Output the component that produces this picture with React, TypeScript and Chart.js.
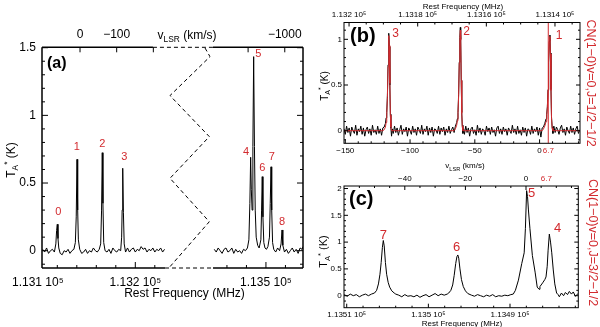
import React, { useEffect, useRef } from 'react';
import { Chart, registerables } from 'chart.js';
Chart.register(...registerables);

const FONT = '"Liberation Sans", Arial, Helvetica, sans-serif';
const RED = '#d22a2e';

// ---------------- Panel (a) data (rest frequency MHz, T_A* K) ----------------
const specAFreqL = [113105,113107,113109,113111,113113,113115,113117,113118.5,113119.3,113120,113120.7,113121.5,113123,113125,113127,113129,113131,113133,113135,113137,113138.5,113139.4,113140.2,113140.9,113141.6,113143,113145,113147,113149,113151,113153,113155,113157,113159,113161,113163,113164.5,113165.4,113166.1,113166.8,113167.6,113169,113171,113173,113175,113177,113179,113181,113183,113185,113186,113186.5,113187.1,113187.8,113188.6,113190,113192,113194,113196,113198,113200,113202,113204,113206,113208,113210,113212,113214,113216,113218,113220,113222,113224,113226,113228,113230];
const specATempL = [0.01,-0.01,0.02,-0.02,0.00,0.01,-0.01,0.05,0.15,0.195,0.09,0.02,-0.02,-0.03,0.00,-0.01,0.01,-0.02,0.00,0.01,0.06,0.25,0.675,0.3,0.08,0.01,-0.02,-0.01,0.01,-0.02,0.00,-0.01,0.02,0.00,-0.01,0.01,0.05,0.3,0.724,0.35,0.06,0.00,-0.01,0.01,-0.02,0.02,0.00,-0.01,0.01,0.00,0.1,0.3,0.609,0.28,0.05,-0.01,0.02,-0.01,0.01,0.02,-0.01,0.01,0.00,0.03,0.01,0.02,-0.01,0.01,0.00,0.02,-0.01,0.01,0.00,0.02,-0.01,0.01];
const specAFreqR = [113447,113449,113451,113453,113455,113457,113459,113461,113463,113465,113467,113469,113471,113473,113475,113477,113479,113481,113482.5,113483.5,113484.3,113485.0,113485.8,113486.6,113487.4,113488.2,113489.0,113490,113491.5,113493,113494.8,113495.5,113496.2,113496.9,113497.8,113499,113500.5,113502,113503.6,113504.4,113505.2,113505.9,113506.8,113508,113510,113512,113514,113515.5,113516.5,113517.3,113519,113521,113523,113525,113527,113529,113531,113533,113535,113537,113538];
const specATempR = [0.01,-0.01,0.02,0.00,-0.02,0.01,0.02,-0.01,0.00,0.02,-0.02,0.01,-0.01,0.00,-0.02,0.01,0.00,0.02,0.08,0.35,0.69,0.45,0.3,0.77,1.434,0.77,0.3,0.1,0.04,0.02,0.08,0.3,0.547,0.25,0.06,0.02,0.01,0.03,0.1,0.35,0.62,0.3,0.06,0.01,-0.01,0.02,0.00,0.05,0.153,0.04,-0.01,0.01,-0.02,0.00,0.02,-0.01,0.01,-0.02,0.02,0.01,0.03];
const peakLabelsA = ['0','1','2','3','4','5','6','7','8'];
const peakLabelFreqA = [113121.0,113139.9,113166.1,113188.7,113479.5,113492.1,113496.2,113505.9,113516.5];
const peakLabelTempA = [0.288,0.769,0.789,0.690,0.732,1.454,0.609,0.690,0.214];
const freqTicksA = [113100,113200,113500];
const freqTickLabelsA = ['1.131 10\u2075','1.132 10\u2075','1.135 10\u2075'];
const freqMinorA = [113120,113140,113160,113180,113220,113460,113480,113520];
const velTicksA = [0,-100,-200,-900,-1000];
const velTickLabelsA = ['0','\u2212100','','','\u22121000'];
const yTicksA = [0,0.5,1,1.5];
const yTickLabelsA = ['0','0.5','1','1.5'];
const yMinorA = [-0.1,0.1,0.2,0.3,0.4,0.6,0.7,0.8,0.9,1.1,1.2,1.3,1.4];
// broken-axis zigzag (in compressed axis units)
const zigXA = [113271.5,113276.6,113235.6,113275.9,113235.6,113275.9,113235.6];
const zigYA = [1.498,1.434,1.146,0.843,0.535,0.214,-0.118];

// ---------------- Panel (b) data (v_LSR km/s, T_A* K) ----------------
const velB = [-151,-150,-149,-148,-147,-146,-145,-144,-143,-142,-141,-140,-139,-138,-137,-136,-135,-134,-133,-132,-131,-130,-129,-128,-127,-126,-125,-124,-123,-122,-121,
  -120,-119,-118.5,-118,-117.5,-117,-116.6,-116.3,-116,-115.6,-115.2,-114.8,-114.3,-113.7,
  -113,-112,-111,-110,-109,-108,-107,-106,-105,-104,-103,-102,-101,-100,-99,-98,-97,-96,-95,-94,-93,-92,-91,-90,-89,-88,-87,-86,-85,-84,-83,-82,-81,-80,-79,-78,-77,-76,-75,-74,-73,-72,-71,-70,-69,-68,-67,-66,
  -65,-64,-63.5,-63,-62.5,-62,-61.6,-61.2,-60.9,-60.5,-60.1,-59.7,-59.2,-58.6,
  -58,-57,-56,-55,-54,-53,-52,-51,-50,-49,-48,-47,-46,-45,-44,-43,-42,-41,-40,-39,-38,-37,-36,-35,-34,-33,-32,-31,-30,-29,-28,-27,-26,-25,-24,-23,-22,-21,-20,-19,-18,-17,-16,-15,-14,-13,-12,-11,-10,-9,-8,-7,-6,-5,-4,-3,-2,-1,0,1,2,
  3,4,5,5.5,6,6.5,7,7.5,8,8.4,8.8,9.2,9.7,10.3,
  11,12,13,14,15,16,17,18,19,20,21,22,23,24,25,26,27,28,29,30,31];
const tempB = [0.02,-0.04,0.05,-0.02,0.03,-0.06,0.04,0.00,-0.03,0.06,-0.05,0.02,-0.01,0.05,-0.04,0.03,-0.06,0.01,0.04,-0.03,0.02,-0.05,0.06,-0.02,0.01,-0.04,0.05,-0.03,0.02,-0.05,0.03,
  0.04,0.08,0.14,0.2,0.38,0.72,0.98,1.066,0.92,0.5,0.18,0.03,-0.06,0.02,
  -0.03,0.05,-0.02,0.03,-0.05,0.01,0.06,-0.04,0.02,-0.01,0.04,-0.06,0.03,0.00,-0.04,0.05,-0.02,0.02,-0.05,0.04,0.01,-0.03,0.06,-0.04,0.02,-0.01,0.05,-0.05,0.03,-0.02,0.04,-0.06,0.02,0.01,-0.03,0.05,-0.04,0.03,-0.01,0.04,-0.05,0.02,-0.02,0.05,-0.03,0.01,0.04,-0.02,
  0.05,0.09,0.13,0.2,0.4,0.75,1.02,1.13,1.0,0.55,0.2,0.06,-0.03,0.02,
  -0.04,0.05,-0.02,0.03,-0.06,0.02,0.04,-0.03,0.01,-0.05,0.06,-0.02,0.03,-0.04,0.02,0.00,-0.05,0.05,-0.01,0.03,-0.04,0.04,-0.02,0.01,-0.06,0.03,0.05,-0.03,0.02,-0.04,0.04,-0.01,0.02,-0.05,0.03,0.00,-0.03,0.06,-0.02,0.02,-0.04,0.05,-0.03,0.01,-0.05,0.04,-0.02,0.03,-0.06,0.02,0.01,-0.04,0.05,-0.03,0.02,-0.01,0.04,-0.05,0.03,-0.07,0.03,
  0.04,0.08,0.13,0.18,0.26,0.45,0.75,0.98,1.047,0.85,0.45,0.15,0.04,-0.03,
  0.05,-0.02,0.04,0.01,-0.04,0.03,0.06,-0.02,0.02,-0.05,0.04,0.00,-0.03,0.05,-0.02,0.03,-0.04,0.02,0.05,-0.03,0.01];
const fitVelB = [-151,-121,-120,-119,-118.5,-118,-117.5,-117,-116.6,-116.3,-116,-115.6,-115.2,-114.8,-114.3,-66,-65,-64,-63.5,-63,-62.5,-62,-61.6,-61.2,-60.9,-60.5,-60.1,-59.7,-59.2,2,3,4,5,5.5,6,6.5,7,7.5,8,8.4,8.8,9.2,9.7,10.3,31.2];
const fitTempB = [0,0,0.01,0.04,0.09,0.17,0.36,0.7,0.97,1.04,0.93,0.52,0.17,0.04,0,0,0.02,0.06,0.11,0.19,0.38,0.74,1.0,1.1,0.99,0.55,0.19,0.05,0,0,0.02,0.05,0.1,0.16,0.25,0.44,0.74,0.97,1.03,0.84,0.44,0.14,0.03,0,0];
const sourceVelB = 6.7;
const peakLabelsB = ['3','2','1'];
const peakLabelVelB = [-111.1,-56.3,15.0];
const peakLabelTempB = [1.066,1.08,1.036];
const velTicksB = [-150,-100,-50,0,6.7];
const velTickLabelsB = ['\u2212150','\u2212100','\u221250','0','6.7'];
const velMajorB = [-150,-100,-50,0];
const velMinorB = [-140,-130,-120,-110,-90,-80,-70,-60,-40,-30,-20,-10,10,20,30];
const freqTicksB = [113200,113180,113160,113140];
const freqTickLabelsB = ['1.132 10\u2075','1.1318 10\u2075','1.1316 10\u2075','1.1314 10\u2075'];
const freqMinorB = [113195,113190,113185,113175,113170,113165,113155,113150,113145,113135];
const yTicksB = [0,0.5,1];
const yTickLabelsB = ['0','0.5','1'];
const yMinorB = [-0.1,0.1,0.2,0.3,0.4,0.6,0.7,0.8,0.9,1.1];

// ---------------- Panel (c) data (v_LSR km/s, T_A* K) ----------------
const velC = [-60,-59,-58,-57,-56,-55,-54,-53,-52,
  -51,-50,-49.3,-48.7,-48.2,-47.8,-47.4,-47.1,-46.8,-46.4,-46,-45.5,-45,-44.3,-43.5,
  -43,-42,-41,-40,-39,-38,-37,-36,-35,-34,-33,-32,-31,-30,-29,-28,-27,-26,
  -25.5,-24.8,-24.2,-23.7,-23.2,-22.8,-22.5,-22.2,-21.8,-21.3,-20.7,-20,-19.2,
  -18,-17,-16,-15,-14,-13,-12,-11,-10,-9,-8,-7,-6,
  -5,-4.2,-3.5,-2.5,-1.4,-0.6,-0.2,0.2,0.5,0.8,1.3,2.1,3.0,3.7,4.3,4.6,5.5,6.2,6.6,7.0,7.3,7.7,8.1,8.5,9.0,9.5,10.1,10.6,
  11,11.7,12.4,13,13.7,14.3,15,15.6,16.3,17.2];
const tempC = [0.02,-0.01,0.03,0.00,0.02,-0.02,0.01,0.03,0.00,
  0.03,0.05,0.1,0.22,0.4,0.62,0.9,1.03,0.93,0.62,0.4,0.25,0.16,0.09,0.05,
  0.03,0.01,-0.02,0.02,-0.01,0.00,-0.02,0.01,-0.03,0.00,0.02,-0.02,0.01,0.04,0.00,0.03,0.01,0.03,
  0.05,0.1,0.2,0.38,0.6,0.73,0.76,0.7,0.5,0.3,0.17,0.09,0.04,
  0.01,-0.01,0.02,0.00,-0.02,0.01,-0.01,0.02,-0.02,0.00,-0.01,0.01,0.00,
  0.02,0.03,0.1,0.29,0.6,0.8,1.25,1.96,1.85,1.6,1.25,0.75,0.44,0.16,0.12,0.17,0.24,0.3,0.35,0.55,0.85,1.15,1.0,0.8,0.48,0.22,0.05,0.02,
  -0.02,0.05,0.0,0.06,0.02,0.08,0.03,0.07,-0.01,0.04];
const peakLabelsC = ['5','4','7','6'];
const peakLabelVelC = [1.88,10.46,-47.1,-22.87];
const peakLabelTempC = [1.91,1.257,1.132,0.903];
const velTicksC = [-40,-20,0,6.7];
const velTickLabelsC = ['\u221240','\u221220','0','6.7'];
const velMajorC = [-40,-20,0];
const velMinorC = [-55,-50,-45,-35,-30,-25,-15,-10,-5,5,10,15];
const freqTicksC = [113510,113500,113490];
const freqTickLabelsC = ['1.1351 10\u2075','1.135 10\u2075','1.1349 10\u2075'];
const freqMinorC = [113508,113506,113504,113502,113498,113496,113494,113492,113488,113486,113484,113482];
const yTicksC = [0,0.5,1,1.5,2];
const yTickLabelsC = ['0','0.5','1','1.5','2'];
const yMinorC = [-0.1,0.1,0.2,0.3,0.4,0.6,0.7,0.8,0.9,1.1,1.2,1.3,1.4,1.6,1.7,1.8,1.9];

// ---------------- axis layout constants ----------------
const A_XMIN = 113104.3, A_XMAX = 113372.0, A_YMIN = -0.128, A_YMAX = 1.503;
const A_SPLIT = 113300, A_SHIFT = 166;
const A_AXIS_L_END = 113230.5, A_AXIS_R_START = 113279.7, A_TOP_DASH = 113218.1;
const A_VEL0_FREQ = 113143.3, A_MHZ_PER_KMS = 0.376;
const B_VMIN = -151, B_VMAX = 31.2, B_YMIN = -0.138, B_YMAX = 1.184;
const B_F0 = 113200, B_V_AT_F0 = -147.1, B_MHZ_PER_KMS = 0.3774;
const C_VMIN = -60.07, C_VMAX = 17.26, C_YMIN = -0.224, C_YMAX = 2.047;
const C_F0 = 113490, C_V_AT_F0 = -5.28, C_MHZ_PER_KMS = 0.3711;

type Seg = { t: string; s?: 'sub' | 'sup' };
const TA: Seg[] = [{ t: 'T' }, { t: 'A', s: 'sub' }, { t: '*', s: 'sup' }, { t: ' (K)' }];
const VLSR: Seg[] = [{ t: 'v' }, { t: 'LSR', s: 'sub' }, { t: ' (km/s)' }];

function richText(ctx: CanvasRenderingContext2D, segs: Seg[], x: number, y: number, size: number,
  opts: { rot?: number; color?: string; align?: 'center' | 'left'; bold?: boolean } = {}) {
  ctx.save();
  ctx.translate(x, y);
  ctx.rotate(opts.rot || 0);
  const fontOf = (s: Seg) => `${opts.bold ? 'bold ' : ''}${s.s ? size * 0.7 : size}px ${FONT}`;
  let total = 0;
  for (const s of segs) { ctx.font = fontOf(s); total += ctx.measureText(s.t).width; }
  let cx = opts.align === 'left' ? 0 : -total / 2;
  ctx.fillStyle = opts.color || '#000';
  ctx.textAlign = 'left';
  ctx.textBaseline = 'alphabetic';
  const base = size * 0.36;
  for (const s of segs) {
    ctx.font = fontOf(s);
    const dy = s.s === 'sub' ? size * 0.28 : s.s === 'sup' ? -size * 0.42 : 0;
    ctx.fillText(s.t, cx, base + dy);
    cx += ctx.measureText(s.t).width;
  }
  ctx.restore();
}

function drawTicks(ctx: CanvasRenderingContext2D, chart: any, id: string, side: string, values: number[], len: number) {
  const s = chart.scales[id];
  const a = chart.chartArea;
  ctx.beginPath();
  for (const v of values) {
    const p = s.getPixelForValue(v);
    if (side === 'top' || side === 'bottom') {
      if (p < a.left - 0.5 || p > a.right + 0.5) continue;
      const y0 = side === 'bottom' ? a.bottom : a.top;
      const d = side === 'bottom' ? -len : len;
      ctx.moveTo(p, y0); ctx.lineTo(p, y0 + d);
    } else {
      if (p < a.top - 0.5 || p > a.bottom + 0.5) continue;
      const x0 = side === 'left' ? a.left : a.right;
      const d = side === 'left' ? len : -len;
      ctx.moveTo(x0, p); ctx.lineTo(x0 + d, p);
    }
  }
  ctx.stroke();
}

function peakLabels(ctx: CanvasRenderingContext2D, chart: any, xId: string, labels: string[], xs: number[], ys: number[], size: number) {
  ctx.save();
  ctx.fillStyle = RED;
  ctx.font = `${size}px ${FONT}`;
  ctx.textAlign = 'center';
  ctx.textBaseline = 'middle';
  labels.forEach((t, i) => {
    ctx.fillText(t, chart.scales[xId].getPixelForValue(xs[i]), chart.scales.y.getPixelForValue(ys[i]));
  });
  ctx.restore();
}

const pts = (xs: number[], ys: number[], fx: (v: number) => number = (v) => v) => {
  const n = Math.min(xs.length, ys.length);
  const out: { x: number; y: number }[] = [];
  for (let i = 0; i < n; i++) out.push({ x: fx(xs[i]), y: ys[i] });
  return out;
};

const commonOpts = {
  animation: false as const,
  responsive: false,
  maintainAspectRatio: false,
  devicePixelRatio: 1,
  events: [] as any[],
  layout: { padding: 0 },
  plugins: { legend: { display: false }, tooltip: { enabled: false }, title: { display: false } },
};

const axis = (o: any) => ({
  type: 'linear',
  grid: { display: false, drawTicks: false },
  border: { display: false },
  ...o,
  ticks: { autoSkip: false, maxRotation: 0, minRotation: 0, color: '#000', ...(o.ticks || {}) },
});

function fixedTicks(values: number[]) {
  return (s: any) => { s.ticks = values.map((v) => ({ value: v })); };
}
const labelsFrom = (labels: string[]) => (_v: any, i: number) => labels[i];

// ---------------- Panel (a) ----------------
function makeA() {
  const cx = (f: number) => (f > A_SPLIT ? f - A_SHIFT : f);
  const vx = (v: number) => cx(A_VEL0_FREQ - A_MHZ_PER_KMS * v);
  const line = (data: any, extra: any = {}) => ({ data, borderColor: '#000', borderWidth: 1, pointRadius: 0, tension: 0, ...extra });
  return {
    type: 'line',
    data: {
      datasets: [
        line(pts(specAFreqL, specATempL, cx)),
        line(pts(specAFreqR, specATempR, cx)),
        line(pts(zigXA, zigYA), { borderDash: [4, 3], clip: false }),
      ],
    },
    options: {
      ...commonOpts,
      scales: {
        x: axis({ position: 'bottom', min: A_XMIN, max: A_XMAX,
          afterBuildTicks: fixedTicks(freqTicksA.map(cx)),
          ticks: { padding: 7, font: { size: 12, family: FONT }, callback: labelsFrom(freqTickLabelsA) },
          afterFit: (s: any) => { s.height = 59; } }),
        x2: axis({ position: 'top', min: A_XMIN, max: A_XMAX,
          afterBuildTicks: fixedTicks(velTicksA.map(vx)),
          ticks: { padding: 5.6, font: { size: 12, family: FONT }, callback: labelsFrom(velTickLabelsA) },
          afterFit: (s: any) => { s.height = 47.3; } }),
        y: axis({ position: 'left', min: A_YMIN, max: A_YMAX,
          afterBuildTicks: fixedTicks(yTicksA),
          ticks: { padding: 6, font: { size: 12, family: FONT }, callback: labelsFrom(yTickLabelsA) },
          afterFit: (s: any) => { s.width = 42; } }),
        y2: axis({ position: 'right', min: A_YMIN, max: A_YMAX, ticks: { display: false },
          afterFit: (s: any) => { s.width = 7; } }),
      },
    },
    plugins: [{
      id: 'decorA',
      afterDraw(chart: any) {
        const ctx = chart.ctx as CanvasRenderingContext2D;
        const a = chart.chartArea;
        const xs = chart.scales.x;
        const bLo = xs.getPixelForValue(A_AXIS_L_END);
        const bHi = xs.getPixelForValue(A_AXIS_R_START);
        const tLo = xs.getPixelForValue(A_TOP_DASH);
        ctx.save();
        ctx.strokeStyle = '#000';
        ctx.lineWidth = 1.5;
        ctx.beginPath();
        ctx.moveTo(a.left, a.top); ctx.lineTo(a.left, a.bottom);
        ctx.moveTo(a.right, a.top); ctx.lineTo(a.right, a.bottom);
        ctx.moveTo(a.left, a.bottom); ctx.lineTo(bLo, a.bottom);
        ctx.moveTo(bHi, a.bottom); ctx.lineTo(a.right, a.bottom);
        ctx.moveTo(a.left, a.top); ctx.lineTo(tLo, a.top);
        ctx.moveTo(bHi, a.top); ctx.lineTo(a.right, a.top);
        ctx.stroke();
        ctx.lineWidth = 1;
        ctx.setLineDash([4, 3]);
        ctx.beginPath();
        ctx.moveTo(bLo, a.bottom); ctx.lineTo(bHi, a.bottom);
        ctx.moveTo(tLo, a.top); ctx.lineTo(bHi, a.top);
        ctx.stroke();
        ctx.setLineDash([]);
        drawTicks(ctx, chart, 'y', 'left', yTicksA, 6);
        drawTicks(ctx, chart, 'y', 'left', yMinorA, 3);
        drawTicks(ctx, chart, 'y', 'right', yTicksA, 6);
        drawTicks(ctx, chart, 'y', 'right', yMinorA, 3);
        drawTicks(ctx, chart, 'x', 'bottom', freqTicksA.map(cx), 6);
        drawTicks(ctx, chart, 'x', 'bottom', freqMinorA.map(cx), 3);
        drawTicks(ctx, chart, 'x', 'top', velTicksA.map(vx), 5);
        ctx.restore();
        peakLabels(ctx, chart, 'x', peakLabelsA, peakLabelFreqA.map(cx), peakLabelTempA, 11);
        ctx.save();
        ctx.fillStyle = '#000';
        ctx.font = `bold 16px ${FONT}`;
        ctx.textAlign = 'left';
        ctx.textBaseline = 'middle';
        ctx.fillText('(a)', 47, 63.5);
        ctx.restore();
        richText(ctx, VLSR, 187, 34.5, 12);
        richText(ctx, [{ t: 'Rest Frequency (MHz)' }], 184.5, 293, 12);
        richText(ctx, TA, 10.5, 160, 12, { rot: -Math.PI / 2 });
      },
    }],
  };
}

// ---------------- Panel (b) ----------------
function makeB() {
  const fB = (v: number) => B_F0 - (v - B_V_AT_F0) * B_MHZ_PER_KMS;
  const line = (data: any, color: string) => ({ data, borderColor: color, borderWidth: 1, pointRadius: 0, tension: 0 });
  return {
    type: 'line',
    data: {
      datasets: [
        line([{ x: sourceVelB, y: B_YMIN }, { x: sourceVelB, y: B_YMAX }], RED),
        line(pts(fitVelB, fitTempB), RED),
        line(pts(velB, tempB), '#000'),
      ],
    },
    options: {
      ...commonOpts,
      scales: {
        x: axis({ position: 'bottom', min: B_VMIN, max: B_VMAX,
          afterBuildTicks: fixedTicks(velTicksB),
          ticks: { padding: 2.6, font: { size: 8, family: FONT },
            color: (c: any) => (c.tick && c.tick.value === sourceVelB ? RED : '#000'),
            callback: labelsFrom(velTickLabelsB) },
          afterFit: (s: any) => { s.height = 14.7; } }),
        x2: axis({ position: 'top', reverse: true, min: fB(B_VMAX), max: fB(B_VMIN),
          afterBuildTicks: fixedTicks(freqTicksB),
          ticks: { padding: 2.9, font: { size: 8, family: FONT }, callback: labelsFrom(freqTickLabelsB) },
          afterFit: (s: any) => { s.height = 22.5; } }),
        y: axis({ position: 'left', min: B_YMIN, max: B_YMAX,
          afterBuildTicks: fixedTicks(yTicksB),
          ticks: { padding: 2, font: { size: 8, family: FONT }, callback: labelsFrom(yTickLabelsB) },
          afterFit: (s: any) => { s.width = 34; } }),
        y2: axis({ position: 'right', min: B_YMIN, max: B_YMAX, ticks: { display: false },
          afterFit: (s: any) => { s.width = 20; } }),
      },
    },
    plugins: [{
      id: 'decorB',
      afterDraw(chart: any) {
        const ctx = chart.ctx as CanvasRenderingContext2D;
        const a = chart.chartArea;
        ctx.save();
        ctx.strokeStyle = '#000';
        ctx.lineWidth = 1;
        ctx.strokeRect(a.left, a.top, a.right - a.left, a.bottom - a.top);
        drawTicks(ctx, chart, 'y', 'left', yTicksB, 4);
        drawTicks(ctx, chart, 'y', 'left', yMinorB, 2);
        drawTicks(ctx, chart, 'y', 'right', yTicksB, 4);
        drawTicks(ctx, chart, 'y', 'right', yMinorB, 2);
        drawTicks(ctx, chart, 'x', 'bottom', velMajorB, 4);
        drawTicks(ctx, chart, 'x', 'bottom', velMinorB, 2);
        drawTicks(ctx, chart, 'x2', 'top', freqTicksB, 4);
        drawTicks(ctx, chart, 'x2', 'top', freqMinorB, 2);
        ctx.restore();
        peakLabels(ctx, chart, 'x', peakLabelsB, peakLabelVelB, peakLabelTempB, 12);
        ctx.save();
        ctx.fillStyle = '#000';
        ctx.font = `bold 20px ${FONT}`;
        ctx.textAlign = 'left';
        ctx.textBaseline = 'middle';
        ctx.fillText('(b)', 40, 36.5);
        ctx.restore();
        richText(ctx, [{ t: 'Rest Frequency (MHz)' }], 153, 6, 8);
        richText(ctx, TA, 14, 86, 10, { rot: -Math.PI / 2 });
        richText(ctx, [{ t: 'CN(1\u22120)v=0,J=1/2\u22121/2' }], 281, 83, 12.5, { rot: Math.PI / 2, color: RED });
      },
    }],
  };
}

// ---------------- Panel (c) ----------------
function makeC() {
  const fC = (v: number) => C_F0 - (v - C_V_AT_F0) * C_MHZ_PER_KMS;
  return {
    type: 'line',
    data: {
      datasets: [
        { data: pts(velC, tempC), borderColor: '#000', borderWidth: 1, pointRadius: 0, tension: 0 },
      ],
    },
    options: {
      ...commonOpts,
      scales: {
        x: axis({ position: 'top', min: C_VMIN, max: C_VMAX,
          afterBuildTicks: fixedTicks(velTicksC),
          ticks: { padding: 2.7, font: { size: 8, family: FONT },
            color: (c: any) => (c.tick && c.tick.value === 6.7 ? RED : '#000'),
            callback: labelsFrom(velTickLabelsC) },
          afterFit: (s: any) => { s.height = 31; } }),
        x2: axis({ position: 'bottom', reverse: true, min: fC(C_VMAX), max: fC(C_VMIN),
          afterBuildTicks: fixedTicks(freqTicksC),
          ticks: { padding: 2.5, font: { size: 8, family: FONT }, callback: labelsFrom(freqTickLabelsC) },
          afterFit: (s: any) => { s.height = 19.3; } }),
        y: axis({ position: 'left', min: C_YMIN, max: C_YMAX,
          afterBuildTicks: fixedTicks(yTicksC),
          ticks: { padding: 2.3, font: { size: 8, family: FONT }, callback: labelsFrom(yTickLabelsC) },
          afterFit: (s: any) => { s.width = 34; } }),
        y2: axis({ position: 'right', min: C_YMIN, max: C_YMAX, ticks: { display: false },
          afterFit: (s: any) => { s.width = 21.7; } }),
      },
    },
    plugins: [{
      id: 'decorC',
      afterDraw(chart: any) {
        const ctx = chart.ctx as CanvasRenderingContext2D;
        const a = chart.chartArea;
        ctx.save();
        ctx.strokeStyle = '#000';
        ctx.lineWidth = 1;
        ctx.strokeRect(a.left, a.top, a.right - a.left, a.bottom - a.top);
        drawTicks(ctx, chart, 'y', 'left', yTicksC, 4);
        drawTicks(ctx, chart, 'y', 'left', yMinorC, 2);
        drawTicks(ctx, chart, 'y', 'right', yTicksC, 4);
        drawTicks(ctx, chart, 'y', 'right', yMinorC, 2);
        drawTicks(ctx, chart, 'x', 'top', velMajorC, 4);
        drawTicks(ctx, chart, 'x', 'top', velMinorC, 2);
        drawTicks(ctx, chart, 'x2', 'bottom', freqTicksC, 4);
        drawTicks(ctx, chart, 'x2', 'bottom', freqMinorC, 2);
        ctx.restore();
        peakLabels(ctx, chart, 'x', peakLabelsC, peakLabelVelC, peakLabelTempC, 13);
        ctx.save();
        ctx.fillStyle = '#000';
        ctx.font = `bold 20px ${FONT}`;
        ctx.textAlign = 'left';
        ctx.textBaseline = 'middle';
        ctx.fillText('(c)', 39, 44.5);
        ctx.restore();
        richText(ctx, VLSR, 155, 10.5, 8);
        richText(ctx, [{ t: 'Rest Frequency (MHz)' }], 152, 168, 8);
        richText(ctx, TA, 13.3, 96.5, 11, { rot: -Math.PI / 2 });
        richText(ctx, [{ t: 'CN(1\u22120)v=0,J=3/2\u22121/2' }], 283, 87.5, 12.5, { rot: Math.PI / 2, color: RED });
      },
    }],
  };
}

function ChartCanvas({ make, left, top, width, height }: { make: () => any; left: number; top: number; width: number; height: number }) {
  const ref = useRef<HTMLCanvasElement>(null);
  useEffect(() => {
    const chart = new Chart(ref.current as HTMLCanvasElement, make());
    return () => chart.destroy();
  }, []);
  return (
    <canvas ref={ref} width={width} height={height}
      style={{ position: 'absolute', left, top, width, height, display: 'block' }} />
  );
}

export default function App() {
  return (
    <div style={{ position: 'absolute', left: 0, top: 0, width: 600, height: 327, background: '#fff', overflow: 'hidden' }}>
      <ChartCanvas make={makeA} left={0} top={0} width={310} height={327} />
      <ChartCanvas make={makeB} left={310} top={0} width={290} height={158} />
      <ChartCanvas make={makeC} left={310} top={155} width={290} height={172} />
    </div>
  );
}
